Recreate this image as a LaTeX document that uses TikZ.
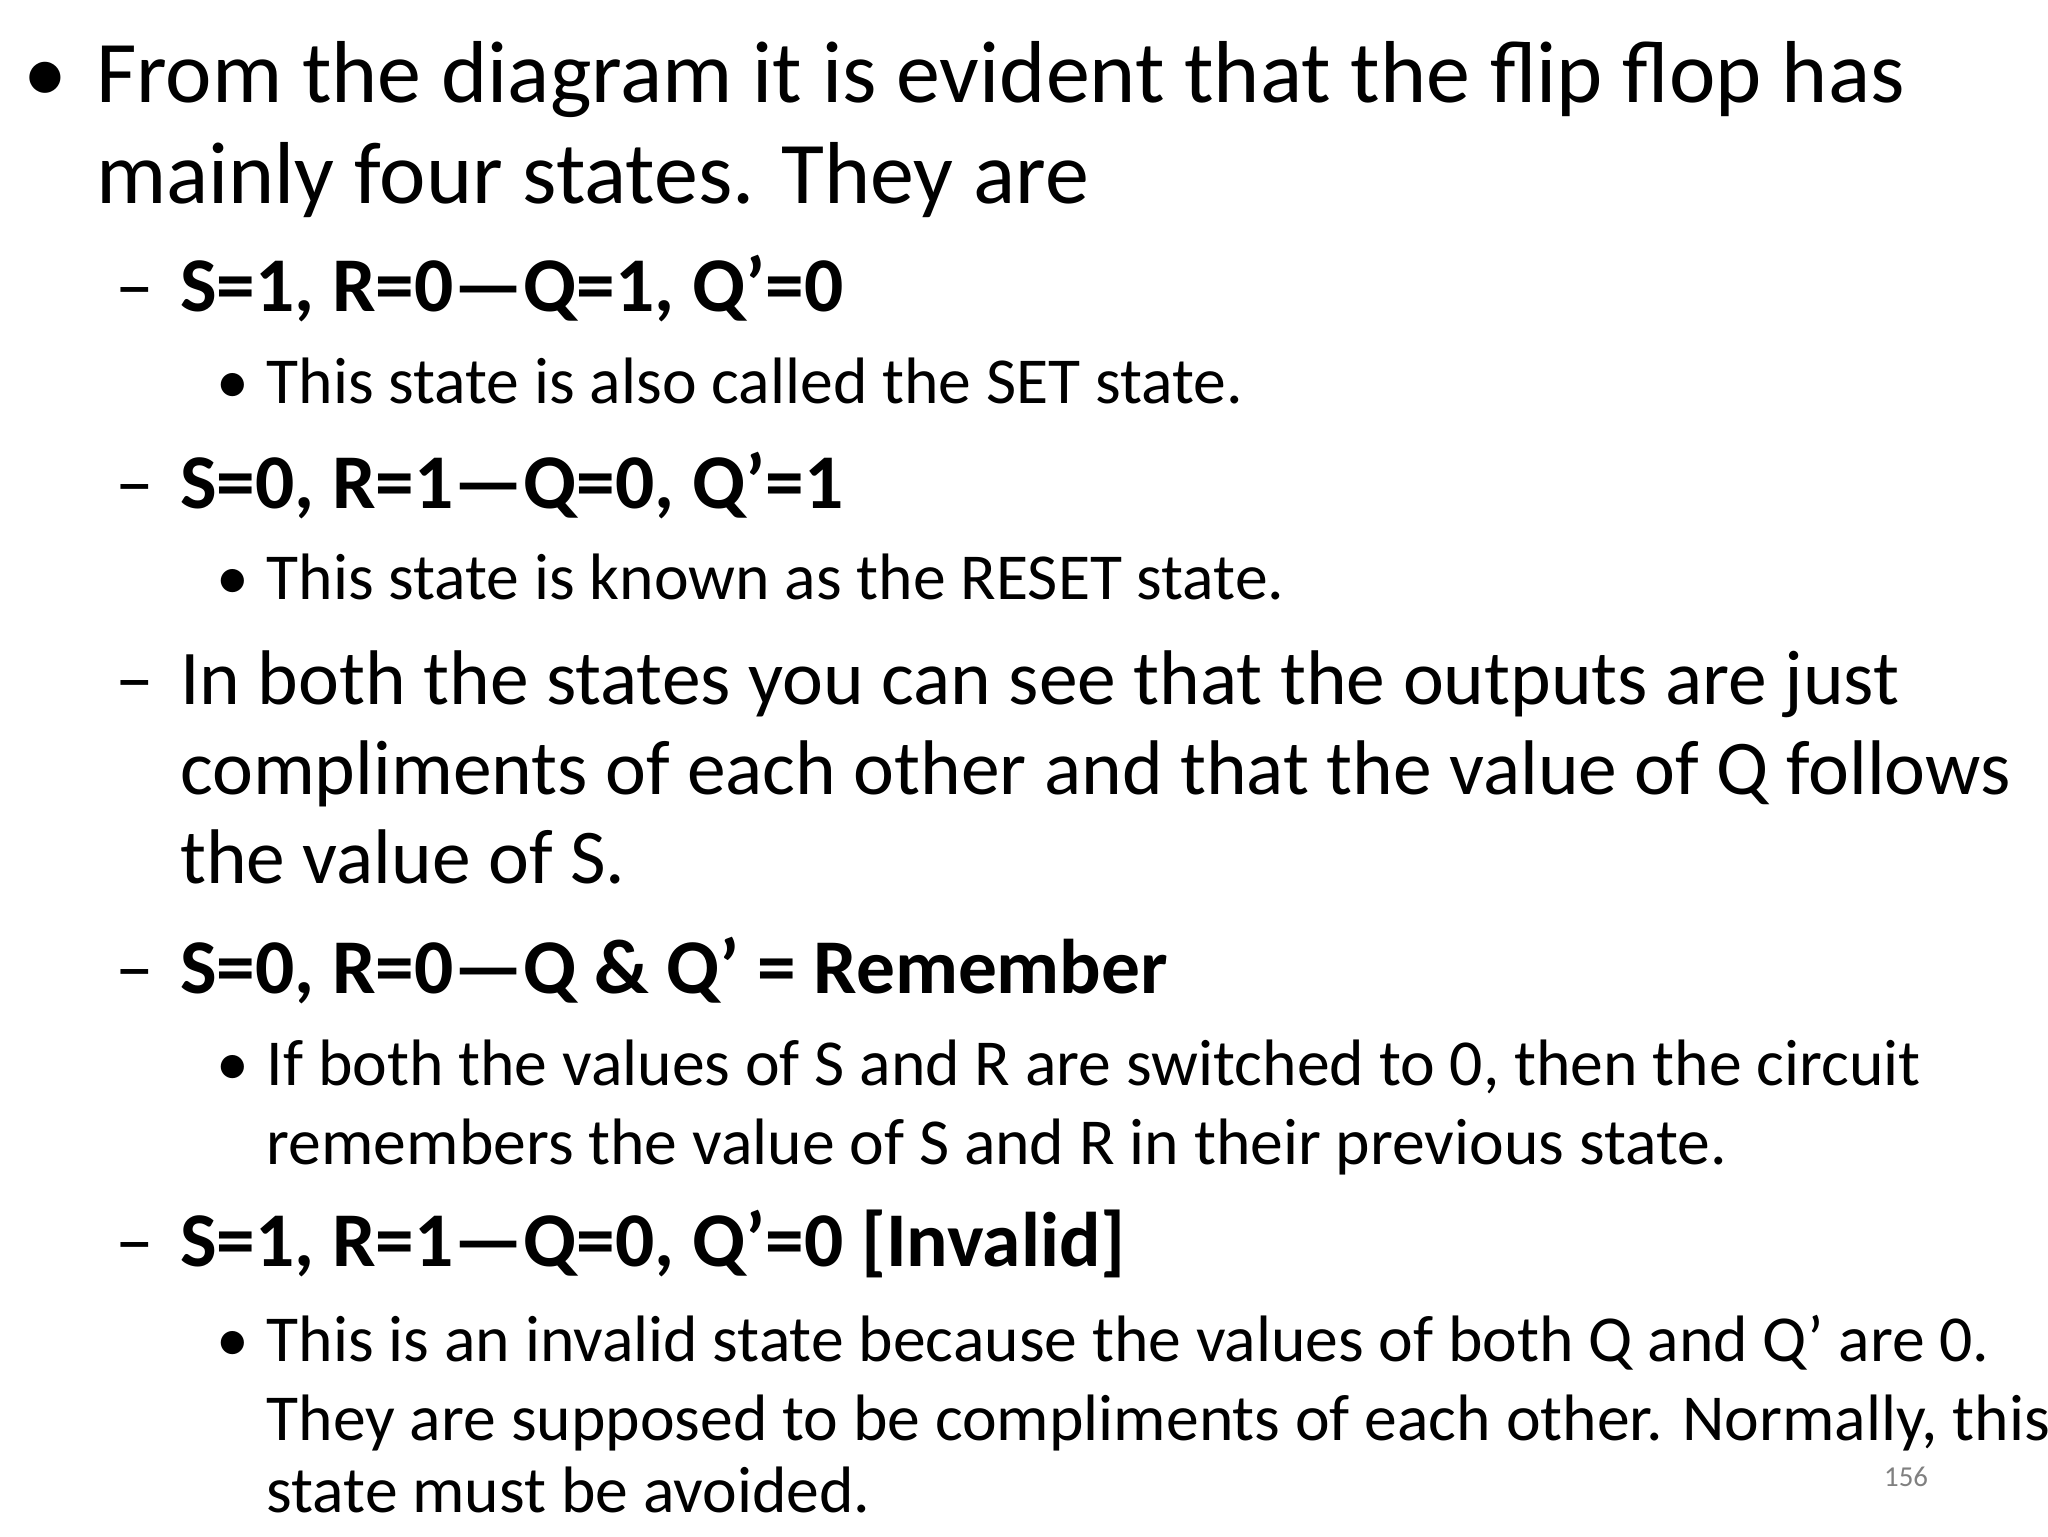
\documentclass[tikz,border=0pt]{standalone}
\usepackage{fontspec}
\setmainfont{Carlito}
\begin{document}
\begin{tikzpicture}[x=1pt,y=-1pt,
  l1/.style={anchor=base west,inner sep=0,font=\fontsize{67}{67}\selectfont},
  l2/.style={anchor=base west,inner sep=0,font=\fontsize{59}{59}\selectfont},
  l2b/.style={anchor=base west,inner sep=0,font=\fontsize{59}{59}\selectfont\bfseries},
  l3/.style={anchor=base west,inner sep=0,font=\fontsize{50}{50}\selectfont}]
\useasboundingbox (0,0) rectangle (1560,1170);
\node[l1] (b1) at (18,78) {•};
\node[l1] (t1) at (73,78) {From the diagram it is evident that the flip flop has};
\node[l1] (t2) at (73,155) {mainly four states. They are};
\node[l2] (d1) at (88,237) {–};
\node[l2b] (s1) at (137,237) {S=1, R=0—Q=1, Q’=0};
\node[l3] (b3a) at (165,307) {•};
\node[l3] (u1) at (203,307) {This state is also called the SET state.};
\node[l2] (d2) at (88,387) {–};
\node[l2b] (s2) at (137,387) {S=0, R=1—Q=0, Q’=1};
\node[l3] (b3b) at (165,457) {•};
\node[l3] (u2) at (203,457) {This state is known as the RESET state.};
\node[l2] (d3) at (88,537) {–};
\node[l2] (s3) at (137,537) {In both the states you can see that the outputs are just};
\node[l2] (s3b) at (137,605) {compliments of each other and that the value of Q follows};
\node[l2] (s3c) at (137,673) {the value of S.};
\node[l2] (d4) at (88,757) {–};
\node[l2b] (s4) at (137,757) {S=0, R=0—Q \& Q’ = Remember};
\node[l3] (b3c) at (165,827) {•};
\node[l3] (u3) at (203,827) {If both the values of S and R are switched to 0, then the circuit};
\node[l3] (u3b) at (203,887) {remembers the value of S and R in their previous state.};
\node[l2] (d5) at (88,965) {–};
\node[l2b] (s5) at (137,965) {S=1, R=1—Q=0, Q’=0 [Invalid]};
\node[l3] (b3d) at (165,1037) {•};
\node[l3] (u4) at (203,1037) {This is an invalid state because the values of both Q and Q’ are 0.};
\node[l3] (u4b) at (203,1097) {They are supposed to be compliments of each other. Normally, this};
\node[l3] (u4c) at (203,1152) {state must be avoided.};
\node[anchor=base west,inner sep=0,font=\fontsize{22}{22}\selectfont,text=gray] (pg) at (1435,1132) {156};
\end{tikzpicture}
\end{document}
